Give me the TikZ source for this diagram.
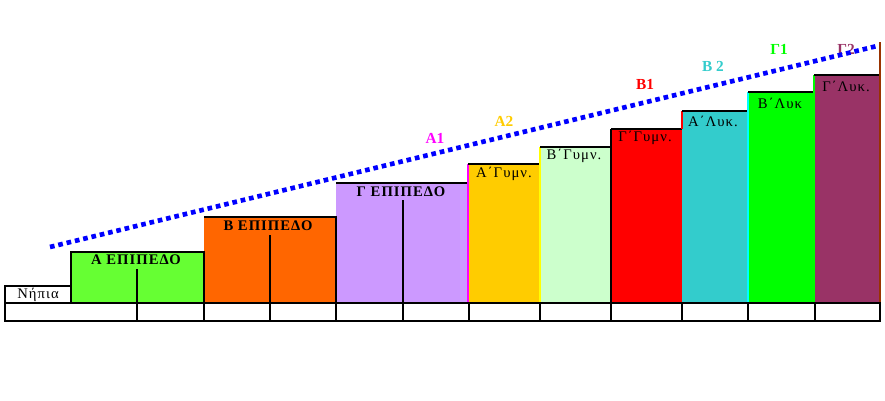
\documentclass[tikz,border=0pt]{standalone}
\usepackage{fontspec}
\setmainfont{Liberation Serif}
\newfontfamily\spaced[LetterSpace=7]{Liberation Serif}
\usepackage{tikz}

\definecolor{agreen}{HTML}{66FF33}
\definecolor{borange}{HTML}{FF6600}
\definecolor{clilac}{HTML}{CC99FF}
\definecolor{gold}{HTML}{FFCC00}
\definecolor{mint}{HTML}{CCFFCC}
\definecolor{aqua}{HTML}{33CCCC}
\definecolor{lime}{HTML}{00FF00}
\definecolor{plum}{HTML}{993366}
\definecolor{rust}{HTML}{993300}
\definecolor{pinkline}{HTML}{FF00FF}
\definecolor{yelline}{HTML}{FFFF00}
\definecolor{cyanline}{HTML}{00FFFF}
\definecolor{redbox}{HTML}{FF0000}
\definecolor{dotblue}{HTML}{0000FF}

\begin{document}
\begin{tikzpicture}[x=0.75pt, y=-0.75pt, line width=1.8pt,
    level/.style={font=\spaced\fontsize{11}{13}\selectfont\bfseries},
    grade/.style={font=\spaced\fontsize{11}{13}\selectfont},
    tag/.style={font=\fontsize{11.5}{13}\selectfont\bfseries}]
    \useasboundingbox (0,0) rectangle (885,400);

    \fill[agreen] (71,252) rectangle (204,303);
    \fill[borange] (204,217) rectangle (336,303);
    \fill[clilac] (336,183) rectangle (468,303);
    \fill[gold] (468,164) rectangle (540,303);
    \fill[mint] (540,147) rectangle (611,303);
    \fill[redbox] (611,129) rectangle (682,303);
    \fill[aqua] (682,111) rectangle (748,303);
    \fill[lime] (748,92) rectangle (814,303);
    \fill[plum] (814,75) rectangle (880,303);

    \draw (71,303) -- (71,252) -- (204,252) -- (204,303);
    \draw (204,217) -- (336,217) -- (336,303);
    \draw (336,183) -- (468,183);
    \draw (137,269) -- (137,303) (270,235) -- (270,303) (403,200) -- (403,303);
    \draw[pinkline] (468,164) -- (468,303);
    \draw (468,164) -- (540,164);
    \draw[yelline] (540,147) -- (540,303);
    \draw (540,147) -- (611,147);
    \draw (611,129) -- (611,303) (611,129) -- (682,129);
    \draw[redbox] (682,111) -- (682,129);
    \draw (682,111) -- (748,111);
    \draw[cyanline] (748,92) -- (748,303);
    \draw (748,92) -- (814,92);
    \draw[lime] (814,75) -- (814,303);
    \draw (814,75) -- (880,75);
    \draw[rust] (880,42) -- (880,303);

    \draw (5,286) rectangle (71,303);
    \draw (5,303) rectangle (880,321);
    \draw (137,303) -- (137,321) (204,303) -- (204,321) (270,303) -- (270,321)
          (336,303) -- (336,321) (403,303) -- (403,321) (469,303) -- (469,321)
          (540,303) -- (540,321) (611,303) -- (611,321) (682,303) -- (682,321)
          (748,303) -- (748,321) (815,303) -- (815,321);

    \node (nipia) [grade] at (38,295) {Νήπια};
    \node (epA) [level] at (136,260) {Α ΕΠΙΠΕΔΟ};
    \node (epB) [level] at (268,226) {Β ΕΠΙΠΕΔΟ};
    \node (epC) [level] at (401,192) {Γ ΕΠΙΠΕΔΟ};
    \node (gymA) [grade] at (504,174) {Α΄Γυμν.};
    \node (gymB) [grade] at (574,156) {Β΄Γυμν.};
    \node (gymC) [grade] at (645,138) {Γ΄Γυμν.};
    \node (lykA) [grade] at (713,121) {Α΄Λυκ.};
    \node (lykB) [grade] at (780,103) {Β΄Λυκ};
    \node (lykC) [grade] at (846,86) {Γ΄Λυκ.};

    \node (a1) [tag, pinkline] at (435,138) {Α1};
    \node (a2) [tag, gold] at (504,121) {Α2};
    \node (b1) [tag, redbox] at (645,84) {Β1};
    \node (b2) [tag, aqua] at (713,66) {Β 2};
    \node (c1) [tag, lime] at (779,49) {Γ1};
    \node (c2) [tag, plum] at (846,49) {Γ2};

    \coordinate (start) at (50,247);
    \coordinate (end) at (877,46);
    \draw[dotblue, line width=3.5pt, dash pattern=on 3.5pt off 2.9pt] (start) -- (end);
\end{tikzpicture}
\end{document}
